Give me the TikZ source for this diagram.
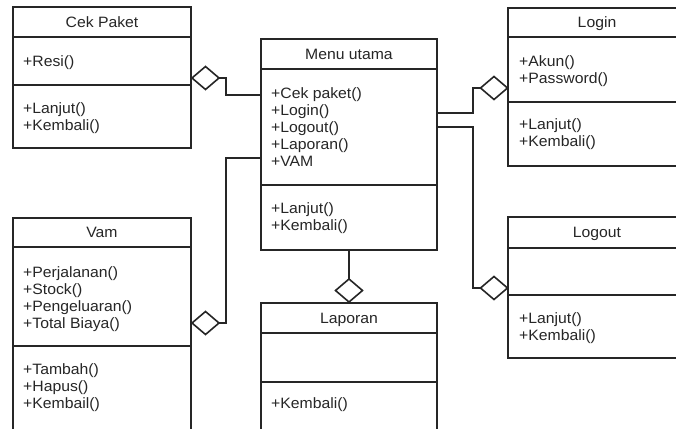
\documentclass[tikz,border=0pt]{standalone}
\usepackage{fontspec}
\setmainfont{Liberation Sans}[FakeStretch=1.05]
\usetikzlibrary{shapes.geometric}
\definecolor{ink}{HTML}{262626}
\tikzset{
  classbox/.style={draw=ink, line width=1.6pt, anchor=north west, inner sep=0pt, outer sep=0pt, fill=white},
  classline/.style={draw=ink, line width=1.6pt},
  titletext/.style={anchor=base, inner sep=0pt, text=ink, font=\fontsize{15}{17}\selectfont},
  itemtext/.style={anchor=base west, inner sep=0pt, text=ink, font=\fontsize{15}{17}\selectfont},
  diam/.style={draw=ink, line width=1.6pt, diamond, fill=white, inner sep=0pt, outer sep=0pt, minimum width=27pt, minimum height=23pt},
  conn/.style={draw=ink, line width=1.6pt},
}
\newcommand\umlclass[8]{%
  \pgfmathsetmacro\bw{#3-#2}\pgfmathsetmacro\bh{#7-#4}%
  \node[classbox, minimum width=\bw pt, minimum height=\bh pt] (#1) at (#2,#4) {};
  \draw[classline] (#2,#5) -- (#3,#5);
  \draw[classline] (#2,#6) -- (#3,#6);
  \pgfmathsetmacro\tcx{(#2+#3)/2}\pgfmathsetmacro\tby{(#4+#5)/2+5.3}%
  \node[titletext] (#1-title) at (\tcx,\tby) {#8};
}
\newcommand\umllines[4]{%
  \foreach \t [count=\i] in {#4} {\node[itemtext] (#1-\i) at ({#2},{#3+17*(\i-1)}) {\t};}
}
\begin{document}
\begin{tikzpicture}[x=1pt,y=-1pt]
\useasboundingbox (0,0) rectangle (676,428);
\fill[white] (0,0) rectangle (676,428);
\clip (0,0) rectangle (676,428);
% classes
\umlclass{cek}{13}{191}{7}{37}{85}{148}{Cek Paket}
\umllines{cekA}{23}{66}{+Resi()}
\umllines{cekM}{23}{113}{+Lanjut(),+Kembali()}
\umlclass{menu}{261}{437}{39}{69}{185}{250}{Menu utama}
\umllines{menuA}{271}{98}{+Cek paket(),+Login(),+Logout(),+Laporan(),+VAM}
\umllines{menuM}{271}{213}{+Lanjut(),+Kembali()}
\umlclass{login}{508}{686}{8}{37}{102}{166}{Login}
\umllines{loginA}{519}{66}{+Akun(),+Password()}
\umllines{loginM}{519}{129}{+Lanjut(),+Kembali()}
\umlclass{logout}{508}{686}{217}{248}{295}{358}{Logout}
\umllines{logoutM}{519}{323}{+Lanjut(),+Kembali()}
\umlclass{vam}{13}{191}{218}{247}{346}{445}{Vam}
\umllines{vamA}{23}{277}{+Perjalanan(),+Stock(),+Pengeluaran(),+Total Biaya()}
\umllines{vamM}{23}{374}{+Tambah(),+Hapus(),+Kembail()}
\umlclass{lap}{261}{437}{303}{333}{382}{445}{Laporan}
\umllines{lapM}{271}{408}{+Kembali()}
% diamonds
\node[diam] (d1) at (205.5,78) {};
\node[diam] (d2) at (494,88) {};
\node[diam] (d3) at (494,288) {};
\node[diam] (d4) at (349,290.5) {};
\node[diam] (d5) at (205.5,323) {};
% connectors
\coordinate (m1) at (261,95);
\coordinate (m2) at (437,113);
\coordinate (m3) at (437,127);
\coordinate (m5) at (261,158);
\draw[conn] (d1.east) -- (226,78) |- (m1);
\draw[conn] (m2) -- (473,113) |- (d2.west);
\draw[conn] (m3) -- (473,127) |- (d3.west);
\draw[conn] (menu.south) -- (d4.north);
\draw[conn] (m5) -- (226,158) |- (d5.east);
\end{tikzpicture}
\end{document}
